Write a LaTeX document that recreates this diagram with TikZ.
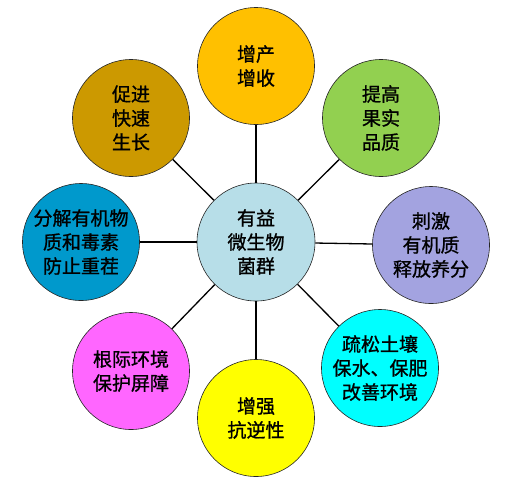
\documentclass[tikz,border=0pt]{standalone}
\usepackage{fontspec}
\setmainfont{Noto Sans CJK SC}[FakeBold=1]
\usepackage{tikz}
\usetikzlibrary{positioning}

\definecolor{hubblue}{HTML}{B7DEE8}
\definecolor{gold}{HTML}{FFC000}
\definecolor{leafgreen}{HTML}{92D050}
\definecolor{lavender}{HTML}{A3A3E0}
\definecolor{aqua}{HTML}{00FFFF}
\definecolor{lemon}{HTML}{FFFF00}
\definecolor{pinkish}{HTML}{FF66FF}
\definecolor{seablue}{HTML}{0099CC}
\definecolor{ochre}{HTML}{CC9900}

\begin{document}
\begin{tikzpicture}[
            x=1pt, y=-1pt,
            font=\fontsize{19}{24}\selectfont,
            bubble/.style={circle, draw=black!85, line width=0.6pt, align=center, minimum size=117pt, inner sep=0pt},
            spoke/.style={draw, line width=1.3pt}
        ]
            \useasboundingbox (0,0) rectangle (505,480);

            \node[bubble, fill=hubblue, minimum size=118pt] (hub) at (256,242) {有益\\微生物\\菌群};

            \node[bubble, fill=gold] (yield) at (256,66) {增产\\增收};
            \node[bubble, fill=leafgreen] (quality) at (381,118) {提高\\果实\\品质};
            \node[bubble, fill=lavender] (release) at (431,245) {刺激\\有机质\\释放养分};
            \node[bubble, fill=aqua] (soil) at (380,368) {疏松土壤\\保水、保肥\\改善环境};
            \node[bubble, fill=lemon] (stress) at (256,418) {增强\\抗逆性};
            \node[bubble, fill=pinkish] (rhizo) at (131,371) {根际环境\\保护屏障};
            \node[bubble, fill=seablue] (decomp) at (81,242) {分解有机物\\质和毒素\\防止重茬};
            \node[bubble, fill=ochre] (growth) at (131,118) {促进\\快速\\生长};

            \draw[spoke] (hub) -- (yield);
            \draw[spoke] (hub) -- (quality);
            \draw[spoke] (hub) -- (release);
            \draw[spoke] (hub) -- (soil);
            \draw[spoke] (hub) -- (stress);
            \draw[spoke] (hub) -- (rhizo);
            \draw[spoke] (hub) -- (decomp);
            \draw[spoke] (hub) -- (growth);
        \end{tikzpicture}
\end{document}
